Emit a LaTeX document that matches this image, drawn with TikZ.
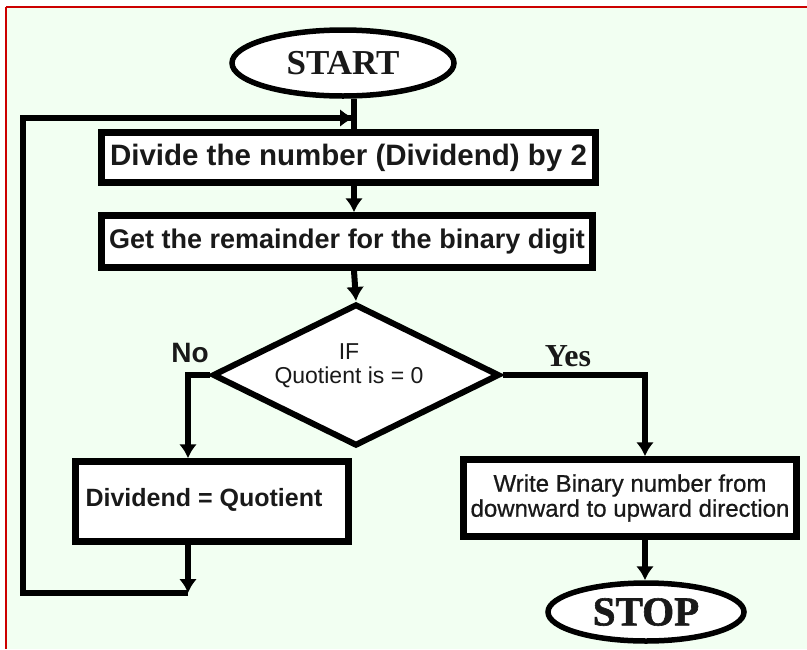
\documentclass[tikz,border=0pt]{standalone}
\usepackage{fontspec}
\setmainfont{Liberation Sans}
\newfontfamily\tnr{Liberation Serif}
\newfontfamily\semib{Liberation Sans}[FakeBold=0.7]
\newfontfamily\heavyserif{Liberation Serif}[BoldFeatures={FakeBold=1.5}]
\usetikzlibrary{shapes.geometric,arrows.meta}
\definecolor{bgc}{RGB}{242,255,242}
\definecolor{redb}{RGB}{204,0,0}
\definecolor{txt}{RGB}{25,25,25}
\begin{document}
\begin{tikzpicture}[x=1pt,y=-1pt,
  line/.style={draw=black,line width=6pt},
  arr/.style={line,-{Latex[length=14pt,width=18pt]}},
  box/.style={rectangle,draw=black,line width=6.5pt,fill=white,inner sep=0pt,text=txt,align=center},
  term/.style={ellipse,draw=black,line width=5.5pt,fill=white,inner sep=0pt,text=txt},
  decision/.style={diamond,draw=black,line width=6pt,fill=white,inner sep=0pt},
  lbl/.style={text=txt,inner sep=0pt}]
\useasboundingbox (0,0) rectangle (807,649);
\fill[white] (0,0) rectangle (807,649);
\fill[bgc] (6,7) rectangle (807,649);
\draw[redb,line width=2.6pt] (6,7) -- (807,7);
\draw[redb,line width=2.4pt] (6,7) -- (6,649);
% coordinates
\coordinate (spine) at (354,0);
\coordinate (nox) at (188,0);
\coordinate (yesx) at (645,0);
\coordinate (lb) at (188,593);
\coordinate (ll) at (23,593);
\coordinate (lt) at (23,118);
\coordinate (ltop) at (354,118);
% nodes
\node[term,minimum width=222pt,minimum height=66pt,font=\tnr\bfseries\fontsize{35}{35}\selectfont] (start) at (343,63) {START};
\node[box,minimum width=494pt,minimum height=50pt,font=\bfseries\fontsize{29.5}{30}\selectfont] (div) at (348.5,157.5) {Divide the number (Dividend) by 2};
\node[box,minimum width=491pt,minimum height=52pt,font=\bfseries\fontsize{27}{30}\selectfont] (get) at (347,241.5) {Get the remainder for the binary digit};
\node[decision,minimum width=287pt,minimum height=142pt] (dec) at (356,375) {};
\node[lbl,align=center,font=\fontsize{23}{24}\selectfont] (dect) at (349,366) {IF\\Quotient is = 0};
\node[lbl,font=\bfseries\fontsize{28}{28}\selectfont] (no) at (190,353) {No};
\node[lbl,font=\tnr\bfseries\fontsize{32}{32}\selectfont] (yes) at (568,356) {Yes};
\node[box,minimum width=273pt,minimum height=80pt] (dq) at (212,501.5) {};
\node[lbl,font=\bfseries\fontsize{25}{25}\selectfont] (dqt) at (204,500) {Dividend = Quotient};
\node[box,minimum width=333pt,minimum height=77pt,font=\semib\fontsize{24}{25}\selectfont] (wr) at (630,498) {Write Binary number from\\downward to upward direction};
\node[term,minimum width=196pt,minimum height=58pt,font=\heavyserif\bfseries\fontsize{41}{41}\selectfont] (stop) at (646,612) {STOP};
% connectors
\draw[line] (start.south -| spine) -- (div.north -| spine);
\draw[arr] (div.south -| spine) -- (get.north -| spine);
\draw[arr] (get.south -| spine) -- (dec.north);
\draw[arr] (dec.west) -| (dq.north -| nox);
\draw[arr] (dec.east) -| (wr.north -| yesx);
\draw[arr] (wr.south -| yesx) -- (stop.north -| yesx);
\draw[arr] (dq.south -| nox) -- (lb);
\draw[line,line join=miter] (lb) -- (ll) -- (lt) -- (ltop);
\draw[arr] (lt) -- (ltop);
\end{tikzpicture}
\end{document}
